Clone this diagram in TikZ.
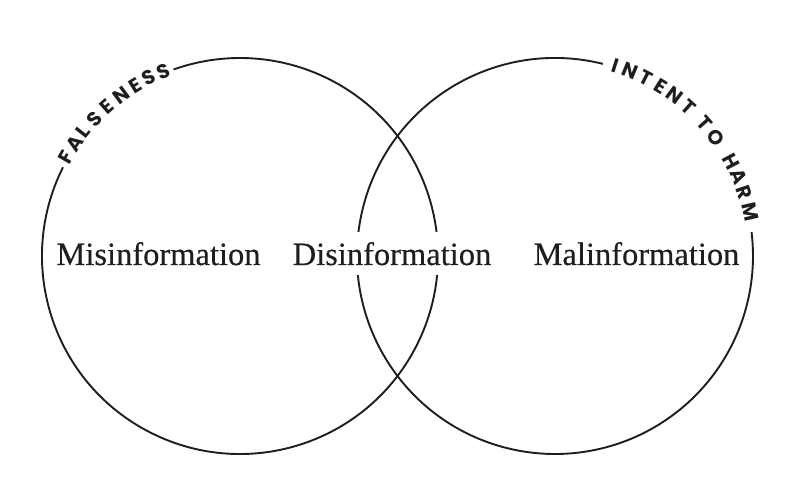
\documentclass[tikz,border=0pt]{standalone}
\usepackage{fontspec}
\setmainfont{Liberation Serif}
\newfontfamily\labfont{Liberation Serif}[FakeBold=0.35]
\newfontfamily\arcfont{Poppins}
\definecolor{ink}{HTML}{1E1E1E}
\begin{document}
\begin{tikzpicture}[x=1pt,y=1pt,
  ring/.style={line width=1.9pt, draw=ink},
  label/.style={font=\labfont\fontsize{32.5}{32}\selectfont, text=ink, fill=white, inner xsep=2pt, inner ysep=10pt, anchor=base},
  arcletter/.style={font=\arcfont\bfseries\fontsize{20}{20}\selectfont, text=ink, inner sep=0pt, anchor=center}]
\useasboundingbox (0,0) rectangle (788,500);
\coordinate (cL) at (240,244);
\coordinate (cR) at (555,244);
\draw[ring] ([shift={(153.4:198)}]cL) arc[start angle=153.4, end angle=469.6, radius=198];
\draw[ring] ([shift={(76:198)}]cR) arc[start angle=76, end angle=366.9, radius=198];
\node[label] (mis) at (158.5,235) {Misinformation};
\node[label] (dis) at (392,235) {Disinformation};
\node[label] (mal) at (636.5,235) {Malinformation};
\foreach \ch/\ang [count=\i] in {F/150.3, A/145.9, L/141.6, S/136.8, E/131.8, N/126.5, E/121.5, S/117.0, S/112.6}
  \node[arcletter, rotate=\ang-90] (fa\i) at ([shift={(\ang:200)}]cL) {\ch};
\foreach \ch/\ang [count=\i] in {I/72.4, N/67.8, T/62.9, E/58.2, N/53.3, T/48.2, T/41.6, O/36.3, H/28.0, A/23.3, R/18.6, M/12.8}
  \node[arcletter, rotate=\ang-90] (in\i) at ([shift={(\ang:200)}]cR) {\ch};
\end{tikzpicture}
\end{document}
